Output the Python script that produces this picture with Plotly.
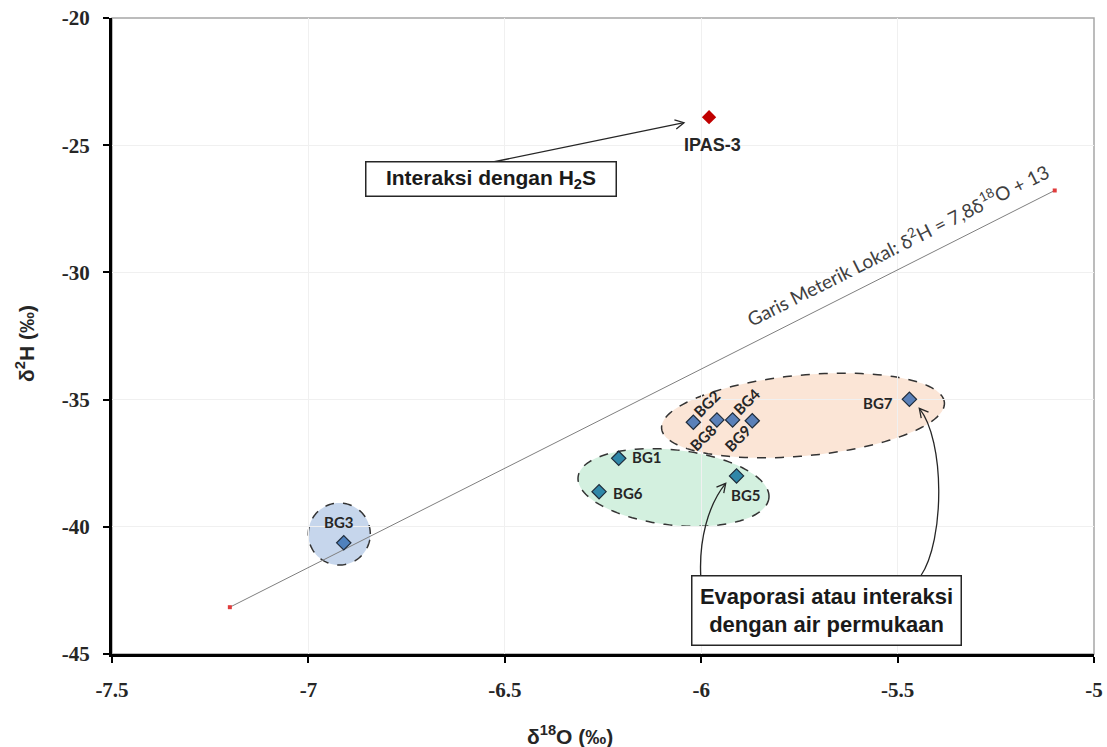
import math
import plotly.graph_objects as go

# ---------------- data ----------------
sample_names = ["BG1", "BG2", "BG3", "BG4", "BG5", "BG6", "BG7", "BG8", "BG9"]
d18O = [-6.21, -6.02, -6.91, -5.92, -5.91, -6.26, -5.47, -5.96, -5.87]
d2H = [-37.31, -35.89, -40.63, -35.80, -38.00, -38.62, -34.99, -35.80, -35.83]
sample_group = ["teal", "slate", "blue", "slate", "teal", "teal", "slate", "slate", "slate"]

ipas_name = ["IPAS-3"]
ipas_d18O = [-5.98]
ipas_d2H = [-23.90]

lmwl_d18O = [-7.20, -5.10]
lmwl_d2H = [-43.16, -26.78]

x_ticks = [-7.5, -7, -6.5, -6, -5.5, -5]
x_ticktext = ["-7.5", "-7", "-6.5", "-6", "-5.5", "-5"]
y_ticks = [-45, -40, -35, -30, -25, -20]
y_ticktext = ["-45", "-40", "-35", "-30", "-25", "-20"]

# ---------------- geometry helpers ----------------
W, H = 1107, 747
ML, MR, MT, MB = 112, 13, 18, 93
X_RANGE = [-7.5, -5]
Y_RANGE = [-45, -20]
PW = W - ML - MR
PH = H - MT - MB
kx = PW / (X_RANGE[1] - X_RANGE[0])
ky = PH / (Y_RANGE[1] - Y_RANGE[0])


def px2x(px):
    return X_RANGE[0] + (px - ML) / kx


def py2y(py):
    return Y_RANGE[1] - (py - MT) / ky


def P(p):
    return f"{px2x(p[0]):.5f},{py2y(p[1]):.5f}"


def ellipse_path(cx, cy, rx, ry, ang_deg, n=140):
    a = math.radians(ang_deg)
    pts = []
    for i in range(n):
        t = 2 * math.pi * i / n
        ux, uy = rx * math.cos(t), ry * math.sin(t)
        dx = ux * math.cos(a) - uy * math.sin(a)
        dy = ux * math.sin(a) + uy * math.cos(a)
        pts.append((cx + dx, cy - dy))
    return "M " + " L ".join(P(p) for p in pts) + " Z"


def arrowhead_path(tip, frm, L=10, spread=28):
    dx, dy = frm[0] - tip[0], frm[1] - tip[1]
    d = math.hypot(dx, dy)
    ux, uy = dx / d, dy / d
    pts = []
    for s in (1, -1):
        a = math.radians(s * spread)
        rx = ux * math.cos(a) - uy * math.sin(a)
        ry = ux * math.sin(a) + uy * math.cos(a)
        pts.append((tip[0] + L * rx, tip[1] + L * ry))
    return f"M {P(pts[0])} L {P(tip)} L {P(pts[1])}"


colors = {"teal": "#2F87A8", "slate": "#5A80B8", "blue": "#4F81BD"}

fig = go.Figure()

# LMWL
fig.add_trace(go.Scatter(
    x=lmwl_d18O, y=lmwl_d2H, mode="lines+markers",
    line=dict(color="#7F7F7F", width=1),
    marker=dict(symbol="square", size=4, color="#E03C3C"),
    hoverinfo="skip",
))

for g in ["blue", "teal", "slate"]:
    xs = [x for x, gg in zip(d18O, sample_group) if gg == g]
    ys = [y for y, gg in zip(d2H, sample_group) if gg == g]
    ns = [n for n, gg in zip(sample_names, sample_group) if gg == g]
    fig.add_trace(go.Scatter(
        x=xs, y=ys, mode="markers", text=ns,
        marker=dict(symbol="diamond", size=11, color=colors[g],
                    line=dict(color="#1E2B3A", width=1.2)),
    ))

fig.add_trace(go.Scatter(
    x=ipas_d18O, y=ipas_d2H, mode="markers", text=ipas_name,
    marker=dict(symbol="diamond", size=11, color="#C00000"),
))

# ---------------- shapes ----------------
shapes = []
shapes.append(dict(type="path", path=ellipse_path(803, 415.5, 142, 40.4, 5.3),
                   fillcolor="#FBE5D6", line=dict(color="#333333", width=1.5, dash="dash"),
                   layer="below"))
shapes.append(dict(type="path", path=ellipse_path(673.5, 487.5, 96, 37.6, -6.3),
                   fillcolor="#D3F0DF", line=dict(color="#333333", width=1.5, dash="dash"),
                   layer="below"))
shapes.append(dict(type="path", path=ellipse_path(339.3, 534, 31, 31, 0),
                   fillcolor="#C6D6EC", line=dict(color="#333333", width=1.5, dash="dash"),
                   layer="below"))
# border top/right
shapes.append(dict(type="rect", xref="x domain", yref="y domain", x0=0, x1=1, y0=0, y1=1,
                   line=dict(color="#A6A6A6", width=1.5), layer="below"))

arrow_line = dict(color="#262626", width=1.3)
# straight arrow to IPAS-3
a_from, a_tip = (493, 162), (684, 122.7)
shapes.append(dict(type="path", path=f"M {P(a_from)} L {P(a_tip)}", line=arrow_line))
shapes.append(dict(type="path", path=arrowhead_path(a_tip, a_from), line=arrow_line))
# curved arrow to BG5
c1 = [(700.7, 576), (699, 540), (708, 505), (725.7, 483.3)]
shapes.append(dict(type="path", path=f"M {P(c1[0])} C {P(c1[1])} {P(c1[2])} {P(c1[3])}",
                   line=arrow_line))
shapes.append(dict(type="path", path=arrowhead_path(c1[3], c1[2]), line=arrow_line))
# curved arrow to BG7
c2 = [(920.7, 576), (945, 540), (945, 440), (919.3, 408.3)]
shapes.append(dict(type="path", path=f"M {P(c2[0])} C {P(c2[1])} {P(c2[2])} {P(c2[3])}",
                   line=arrow_line))
shapes.append(dict(type="path", path=arrowhead_path(c2[3], c2[2]), line=arrow_line))

# ---------------- annotations ----------------
ann = []
label_offsets = {
    "BG1": (28, 1, 0), "BG2": (14, 19, -45), "BG3": (-5, 21, 0), "BG4": (14.5, 18.5, -45),
    "BG5": (9, -19, 0), "BG6": (29, -1.5, 0), "BG7": (-31, -4, 0), "BG8": (-13.5, -17, -45),
    "BG9": (-14.5, -17.5, -45),
}
for n, x, y in zip(sample_names, d18O, d2H):
    dx, dy, ang = label_offsets[n]
    ann.append(dict(x=x, y=y, xref="x", yref="y", text=f"<b>{n}</b>", showarrow=False,
                    xanchor="center", yanchor="middle",
                    xshift=dx, yshift=dy, textangle=ang,
                    font=dict(family="Lato", size=15, color="#262626")))
ann.append(dict(x=ipas_d18O[0], y=ipas_d2H[0], xref="x", yref="y", text=f"<b>{ipas_name[0]}</b>",
                showarrow=False, xanchor="center", yanchor="middle", xshift=3, yshift=-28,
                font=dict(family="Liberation Sans", size=18, color="#262626")))
# LMWL label
ann.append(dict(x=px2x(897), y=py2y(244), xref="x", yref="y",
                text="Garis Meterik Lokal: δ<sup>2</sup>H = 7,8δ<sup>18</sup>O + 13",
                showarrow=False, textangle=-26.7, xanchor="center", yanchor="middle",
                font=dict(family="Lato", size=19, color="#404040")))
# boxes
ann.append(dict(x=px2x(490.5), y=py2y(179.2), xref="x", yref="y",
                text="<b>Interaksi dengan H<sub>2</sub>S</b>", showarrow=False,
                xanchor="center", yanchor="middle",
                width=245, height=29, bgcolor="white", bordercolor="#262626",
                borderwidth=1.5, borderpad=2,
                font=dict(family="Liberation Sans", size=21, color="#1A1A1A")))
ann.append(dict(x=px2x(826.7), y=py2y(610.8), xref="x", yref="y",
                text="<b>Evaporasi atau interaksi<br>dengan air permukaan</b>", showarrow=False,
                xanchor="center", yanchor="middle",
                width=264, height=64, bgcolor="white", bordercolor="#262626",
                borderwidth=1.5, borderpad=2,
                font=dict(family="Liberation Sans", size=22, color="#1A1A1A")))
# axis titles
ann.append(dict(x=(25 - ML) / PW, y=(H - MB - 344) / PH, xref="paper", yref="paper",
                text="<b>δ<sup>2</sup>H (‰)</b>", showarrow=False, textangle=-90,
                xanchor="center", yanchor="middle",
                font=dict(family="Liberation Sans", size=21, color="#262626")))
ann.append(dict(x=(570 - ML) / PW, y=(H - MB - 735) / PH, xref="paper", yref="paper",
                text="<b>δ<sup>18</sup>O (‰)</b>", showarrow=False,
                xanchor="center", yanchor="middle",
                font=dict(family="Liberation Sans", size=21, color="#262626")))

axis_common = dict(showgrid=True, gridcolor="#F0F0F0", gridwidth=1, zeroline=False,
                   showline=True, linecolor="black", linewidth=3,
                   ticks="outside", ticklen=6, tickwidth=2, tickcolor="black",
                   tickfont=dict(family="Liberation Serif", size=21, color="#262626", weight="bold"),
                   ticklabelstandoff=9, automargin=False)

fig.update_layout(
    width=W, height=H,
    margin=dict(l=ML, r=MR, t=MT, b=MB, pad=0, autoexpand=False),
    plot_bgcolor="white", paper_bgcolor="white",
    showlegend=False,
    xaxis=dict(range=X_RANGE, tickvals=x_ticks, ticktext=x_ticktext, **axis_common),
    yaxis=dict(range=Y_RANGE, tickvals=y_ticks, ticktext=y_ticktext, **axis_common),
    shapes=shapes,
    annotations=ann,
)

fig.write_html(
    "out.html",
    config={"displayModeBar": False},
    post_script=("document.documentElement.style.margin='0px';"
                 "document.documentElement.style.overflow='hidden';"
                 "document.body.style.margin='0px';"
                 "document.body.style.padding='0px';"
                 "document.body.style.overflow='hidden';"),
)
